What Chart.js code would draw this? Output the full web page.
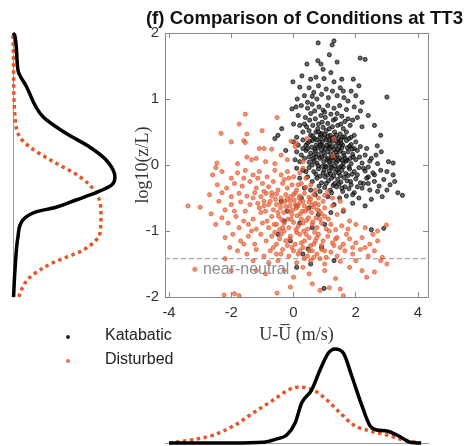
<!DOCTYPE html>
<html>
<head>
<meta charset="utf-8">
<script src="https://cdn.jsdelivr.net/npm/chart.js@4.4.1/dist/chart.umd.min.js"></script>
<style>
    body { margin: 0; width: 466px; height: 446px; position: relative; background: #fff; overflow: hidden; }
    canvas { position: absolute; }
    #chart-main { left: 125px; top: 0; }
    #chart-left { left: 0; top: 0; }
    #chart-bottom { left: 120px; top: 340px; }
    #legend { position: absolute; left: 60px; top: 323px; font: 16px "Liberation Sans", Arial, sans-serif; color: #222; }
    #legend .item { position: relative; height: 24px; line-height: 24px; padding-left: 45px; }
    #legend .item i { position: absolute; left: 6px; top: 12px; width: 4px; height: 4px; border-radius: 50%; }
</style>
</head>
<body>
<canvas id="chart-left" width="140" height="330"></canvas>
<canvas id="chart-bottom" width="346" height="106"></canvas>
<canvas id="chart-main" width="338" height="350"></canvas>
<div id="legend"></div>
<script>
// axis limits and ticks
var xMin = -4.13, xMax = 4.32;
var yMin = -2, yMax = 2;
var xTicks = [-4, -2, 0, 2, 4];
var yTicks = [-2, -1, 0, 1, 2];

var seriesNames = ['Katabatic', 'Disturbed'];
var neutralLevel = -1.42;
var neutralLabel = 'near-neutral';

// scatter: [U - Ubar, log10(z/L)]
var katabaticPoints = [
    [0.79,1.85],[1.24,1.82],[1.3,1.88],[1.15,1.67],[1.4,1.56],[0.78,1.58],[0.88,1.53],[0.43,1.53],[2.14,1.62],[2.3,1.6],
    [-0.02,1.26],[0.27,1.35],[0.55,1.3],[0.72,1.33],[0.98,1.31],[1.3,1.26],[1.55,1.3],[1.92,1.3],[0.2,1.18],[0.5,1.17],
    [0.8,1.2],[1.05,1.15],[1.25,1.12],[1.5,1.17],[1.85,1.12],[2.1,1.2],[0.35,1.05],[0.6,1.04],[0.9,1.07],[1.12,1.02],
    [1.4,1.05],[1.62,1.02],[2.0,1.05],[3.0,1.03],[0.12,1.0],[0.75,1.0],[1.75,0.97],[2.2,0.95],
    [0.45,0.95],[1.6,1.12],[1.2,1.4],[0.95,1.45],[0.65,1.1],
    [-0.05,0.85],[0.08,0.88],[0.25,0.9],[0.45,0.86],[0.6,0.92],[0.82,0.88],[0.95,0.83],[1.1,0.9],[1.3,0.86],[1.48,0.9],
    [1.7,0.84],[1.95,0.88],[2.15,0.82],[0.15,0.75],[0.38,0.72],[0.55,0.78],[0.7,0.7],[0.88,0.75],[1.02,0.72],[1.2,0.77],
    [1.35,0.7],[1.55,0.74],[1.75,0.7],[2.05,0.72],[2.4,0.75],[-0.5,0.45],[-0.38,0.55],[0.0,0.62],[0.2,0.6],[0.42,0.58],
    [0.62,0.6],[0.8,0.62],[0.95,0.57],[1.1,0.63],[1.25,0.58],[1.42,0.6],[1.6,0.55],[1.82,0.6],[2.2,0.58],[2.6,0.6],
    [0.3,0.5],[0.5,0.52],[0.72,0.5],[0.9,0.48],[1.05,0.52],[1.18,0.45],[1.32,0.5],[1.5,0.47],[1.7,0.5],[1.95,0.45],
    [2.8,0.45],[-0.6,0.4],[0.1,0.42],[0.85,0.42],[1.45,0.4],
    [0.35,0.62],[0.52,0.68],[0.68,0.82],[0.78,0.55],[0.92,0.65],[1.0,0.8],[1.15,0.55],[1.28,0.68],[1.4,0.78],[1.52,0.62],
    [1.65,0.66],[1.9,0.68],[0.55,0.45],[0.68,0.4],[0.8,0.5],[1.0,0.46],[1.15,0.38],[1.3,0.42],[1.58,0.42],[1.85,0.42],
    [0.0,0.35],[0.15,0.3],[0.3,0.38],[0.45,0.33],[0.6,0.37],[0.72,0.3],[0.85,0.35],[0.95,0.28],[1.05,0.38],[1.15,0.32],
    [1.25,0.36],[1.35,0.29],[1.45,0.34],[1.58,0.3],[1.7,0.37],[1.85,0.31],[2.0,0.35],[2.15,0.28],[2.69,0.29],[2.82,0.2],
    [-0.25,0.22],[0.1,0.2],[0.25,0.15],[0.4,0.22],[0.55,0.18],[0.68,0.24],[0.8,0.16],[0.9,0.22],[1.0,0.14],[1.1,0.2],
    [1.2,0.17],[1.3,0.23],[1.4,0.15],[1.5,0.21],[1.62,0.14],[1.75,0.2],[1.9,0.16],[2.05,0.22],[2.3,0.15],[2.5,0.1],
    [0.05,0.08],[0.2,0.05],[0.35,0.1],[0.5,0.04],[0.62,0.09],[0.75,0.03],[0.85,0.1],[0.97,0.05],[1.08,0.08],[1.18,0.02],
    [1.28,0.07],[1.38,0.04],[1.48,0.1],[1.6,0.03],[1.72,0.07],[1.85,0.02],[2.0,0.08],[2.2,0.03],[2.45,0.06],[2.7,0.02],
    [3.05,0.05],[3.2,0.03],[0.4,0.3],[0.65,0.15],[0.92,0.35],[1.12,0.1],[1.33,0.12],[1.55,0.26],[1.68,0.06],[0.78,0.26],
    [1.02,0.25],[1.22,0.28],[1.42,0.23],
    [0.45,0.25],[0.52,0.36],[0.88,0.3],[1.13,0.27],[1.38,0.36],[1.53,0.33],[1.8,0.28],[1.95,0.25],[0.6,0.0],[0.72,0.12],
    [0.93,-0.02],[1.2,-0.03],[1.45,-0.12],[1.57,0.07],[1.82,0.1],[2.12,0.12],[2.4,-0.03],
    [0.62,0.44],[0.74,0.38],[0.87,0.46],[0.99,0.41],[1.11,0.44],[1.24,0.4],[1.37,0.45],[1.52,0.38],[1.64,0.43],[1.78,0.4],
    [0.58,0.27],[0.7,0.21],[0.83,0.29],[0.96,0.19],[1.07,0.3],[1.17,0.25],[1.27,0.14],[1.36,0.2],[1.47,0.28],[1.6,0.18],
    [1.73,0.26],[1.88,0.24],[0.66,0.06],[0.79,-0.01],[0.91,0.12],[1.03,-0.02],[1.14,0.05],[1.23,0.11],[1.32,-0.01],[1.43,0.07],
    [1.53,-0.02],[1.66,0.1],[1.78,-0.03],[1.92,0.12],[0.72,-0.14],[0.86,-0.17],[0.98,-0.08],[1.09,-0.15],[1.19,-0.13],[1.29,-0.17],
    [1.4,-0.07],[1.5,-0.16],[1.6,-0.03],[1.75,-0.16],[1.88,-0.14],[2.05,-0.15],[2.25,-0.05],[2.4,-0.18],[1.05,-0.28],[1.27,-0.31],
    [1.45,-0.29],[1.65,-0.33],[1.83,-0.25],[2.25,-0.28],[2.6,-0.15],[0.5,0.12],[0.4,-0.1],[0.3,0.25],[2.35,0.25],[2.65,0.15],
    [0.1,-0.05],[0.3,-0.08],[0.5,-0.04],[0.65,-0.1],[0.8,-0.06],[0.95,-0.12],[1.05,-0.03],[1.15,-0.09],[1.25,-0.05],[1.35,-0.11],
    [1.45,-0.04],[1.55,-0.08],[1.68,-0.13],[1.8,-0.06],[1.95,-0.1],[2.1,-0.04],[2.3,-0.09],[2.55,-0.12],[2.8,-0.08],[3.0,-0.1],
    [3.2,-0.15],[0.2,-0.2],[0.45,-0.18],[0.6,-0.25],[0.75,-0.2],[0.9,-0.27],[1.02,-0.18],[1.12,-0.24],[1.22,-0.2],[1.32,-0.28],
    [1.42,-0.22],[1.52,-0.26],[1.62,-0.19],[1.72,-0.24],[1.85,-0.3],[2.0,-0.21],[2.15,-0.27],[2.35,-0.2],[2.6,-0.25],[2.9,-0.22],
    [3.1,-0.3],[0.35,-0.35],[0.55,-0.38],[0.85,-0.4],[1.0,-0.34],[1.18,-0.38],[1.38,-0.33],[1.58,-0.4],[1.78,-0.36],[1.95,-0.42],
    [2.2,-0.35],[2.45,-0.38],[2.7,-0.4],[3.35,-0.42],[3.5,-0.46],[0.7,-0.45],[1.1,-0.48],[1.48,-0.5],[1.7,-0.47],[2.1,-0.5],
    [2.5,-0.52],[2.85,-0.48],[0.25,-0.5],[1.9,-0.58],[2.3,-0.62],[1.3,-0.6],
    [0.82,-0.32],[1.22,-0.42],[1.55,-0.35],[1.9,-0.45],[2.05,-0.33],[2.4,-0.28],[2.75,-0.32],[3.0,-0.38],[3.25,-0.25],
    [-0.4,-0.55],[-0.2,-0.7],[0.1,-0.62],[0.5,-0.65],[0.8,-0.75],[1.2,-0.72],[1.6,-0.7],[-0.3,-0.85],[0.2,-0.88],[0.6,-0.95],
    [1.0,-0.9],[2.5,-0.98],[2.9,-0.96],[0.47,-1.27],[-0.1,-1.15],[0.3,-1.35],[0.9,-1.25],[1.3,-1.45],[0.55,-1.5],[0.98,-1.87],
    [-0.5,-1.05],[0.1,-1.55]
];

var disturbedPoints = [
    [-1.55,0.77],[-0.53,0.72],[-1.75,0.62],[-2.33,0.48],[-1.5,0.47],[-1.01,0.52],[-2.0,0.35],[-1.6,0.37],[-1.55,0.34],[-1.1,0.25],
    [-0.95,0.25],[-0.7,0.24],[-1.2,0.1],[-1.35,0.08],[-0.08,0.36],[0.05,0.28],[-2.46,0.03],[-2.5,-0.04],[-0.4,0.15],[-0.2,0.08],
    [-1.8,0.02],[-0.9,0.05],[0.3,0.05],[-0.6,0.02],[-1.5,0.12],[0.1,0.33],[0.43,0.4],[1.3,0.4],[1.27,0.14],
    [-2.6,-0.15],[-2.3,-0.1],[-2.0,-0.2],[-1.8,-0.12],[-1.55,-0.08],[-1.3,-0.15],[-1.1,-0.1],[-0.85,-0.18],[-0.6,-0.08],[-0.4,-0.15],
    [-0.2,-0.1],[0.0,-0.18],[0.2,-0.12],[0.4,-0.2],[-2.45,-0.3],[-2.15,-0.35],[-1.9,-0.28],[-1.65,-0.32],
    [-1.4,-0.25],[-1.2,-0.35],[-1.0,-0.28],[-0.8,-0.33],[-0.65,-0.25],[-0.5,-0.38],[-0.35,-0.28],[-0.2,-0.35],[-0.05,-0.3],[0.1,-0.38],
    [0.25,-0.28],[0.4,-0.34],[0.55,-0.3],[0.7,-0.38],[1.1,-0.4],[-2.7,-0.45],[-2.3,-0.42],[-2.0,-0.48],
    [-1.75,-0.43],[-1.5,-0.47],[-1.25,-0.42],[-1.05,-0.48],[-0.88,-0.43],[-0.7,-0.47],[-0.55,-0.44],[-0.4,-0.5],[-0.25,-0.45],[-0.1,-0.48],
    [0.05,-0.42],[0.2,-0.47],[0.35,-0.43],[0.5,-0.49],[0.65,-0.45],[0.8,-0.5],[1.0,-0.46],[1.25,-0.5],[-1.6,-0.2],
    [-0.3,-0.22],[0.3,-0.05],[-0.95,-0.4],[0.0,-0.45],
    [-3.39,-0.62],[-3.0,-0.64],[-2.65,-0.74],[-2.4,-0.55],[-2.2,-0.68],[-2.0,-0.6],[-1.85,-0.78],[-1.7,-0.56],[-1.55,-0.7],[-1.4,-0.6],
    [-1.3,-0.82],[-1.15,-0.58],[-1.05,-0.72],[-0.95,-0.62],[-0.85,-0.85],[-0.75,-0.55],[-0.65,-0.68],[-0.55,-0.6],[-0.48,-0.78],[-0.4,-0.58],
    [-0.32,-0.72],[-0.25,-0.63],[-0.18,-0.82],[-0.1,-0.55],[-0.02,-0.68],[0.05,-0.6],[0.12,-0.77],[0.2,-0.57],[0.28,-0.7],[0.35,-0.62],
    [0.42,-0.84],[0.5,-0.56],[0.58,-0.72],[0.65,-0.64],[0.72,-0.8],[0.8,-0.6],[0.9,-0.74],[1.0,-0.65],[1.12,-0.82],[1.25,-0.62],
    [1.4,-0.75],[1.6,-0.68],[1.8,-0.85],[-2.5,-0.9],[-2.1,-0.88],[-1.75,-0.95],[-1.45,-0.9],[-1.2,-0.97],[-1.0,-0.88],[-0.8,-0.95],
    [-0.62,-0.9],[-0.45,-0.98],[-0.3,-0.88],[-0.15,-0.95],[0.0,-0.87],[0.15,-0.93],[0.3,-0.88],[0.45,-0.97],[0.6,-0.9],[0.75,-0.95],
    [0.9,-0.88],[1.05,-0.97],[1.2,-0.9],[1.35,-0.98],[1.55,-0.92],[1.75,-0.97],[2.0,-0.9],[2.3,-0.95],[2.7,-1.0],[2.98,-0.91],
    [-0.7,-0.78],[-0.2,-0.52],[0.25,-0.82],[0.55,-0.52],[0.95,-0.55],[-0.05,-0.75],[0.38,-0.7],[0.7,-0.58],[-0.38,-0.83],[0.1,-0.65],
    [-0.9,-0.7],[-1.6,-0.85],[0.85,-0.82],[1.5,-0.55],[-0.55,-0.9],[0.18,-0.5],[0.62,-0.86],[-0.12,-0.62],
    [-0.58,-0.52],[-0.42,-0.65],[-0.28,-0.55],[-0.15,-0.7],[0.02,-0.53],[0.14,-0.62],[0.3,-0.55],[0.45,-0.67],[0.6,-0.6],[0.77,-0.68],
    [-0.5,-0.72],[-0.35,-0.95],[-0.08,-0.82],[0.08,-0.98],[0.22,-0.74],[0.33,-1.0],[0.48,-0.8],[0.68,-1.02],[0.83,-0.7],[1.0,-0.78],
    [-0.6,-1.02],[-0.45,-1.12],[-0.3,-1.0],[-0.12,-1.12],[0.1,-1.02],[0.25,-1.18],[0.4,-1.05],[0.55,-1.22],[0.75,-1.1],[0.9,-1.22],
    [1.15,-1.0],[1.35,-1.12],[-0.65,-1.25],[-0.4,-1.35],[-0.05,-1.25],[0.2,-1.3],[0.5,-1.3],[0.65,-1.4],[1.0,-1.3],[1.5,-1.25],
    [1.7,-1.05],[1.9,-1.25],[2.3,-1.25],[2.55,-1.05],[-1.3,-0.5],[-1.1,-0.65],[-0.8,-0.6],[-1.9,-0.7],[-2.3,-0.8],[-1.35,-1.0],
    [-1.6,-1.2],[-2.05,-1.25],[-0.95,-0.55],[-0.7,-0.42],[0.15,-0.3],[-0.15,-0.2],[-1.15,-0.2],
    [-2.2,-1.1],[-1.95,-1.05],[-1.7,-1.15],[-1.45,-1.08],[-1.25,-1.2],[-1.05,-1.05],[-0.88,-1.15],[-0.7,-1.08],[-0.55,-1.2],[-0.4,-1.05],
    [-0.25,-1.15],[-0.1,-1.08],[0.05,-1.2],[0.2,-1.05],[0.35,-1.15],[0.5,-1.1],[0.65,-1.2],[0.8,-1.05],[0.95,-1.15],[1.1,-1.08],
    [1.25,-1.18],[1.4,-1.1],[1.6,-1.2],[1.8,-1.12],[2.0,-1.18],[2.2,-1.1],[2.45,-1.2],[2.7,-1.15],[-1.8,-1.3],[-1.5,-1.35],
    [-1.2,-1.28],[-0.95,-1.38],[-0.75,-1.3],[-0.55,-1.35],[-0.35,-1.28],[-0.15,-1.38],[0.0,-1.3],[0.15,-1.35],[0.3,-1.25],[0.45,-1.38],
    [0.6,-1.3],[0.75,-1.35],[0.9,-1.28],[1.05,-1.4],[1.2,-1.32],[1.4,-1.38],[1.65,-1.3],[1.9,-1.35],[2.15,-1.28],[2.4,-1.38],
    [2.6,-1.3],[2.85,-1.4],[-2.2,-1.42],[-1.3,-1.45],[-0.5,-1.45],[0.1,-1.48],[0.55,-1.45],[1.0,-1.5],[1.5,-1.46],[2.0,-1.45],
    [2.8,-1.45],[-0.8,-1.48],[0.35,-1.42],[1.3,-1.22],[0.7,-1.15],[-0.2,-1.22],[0.85,-1.42],
    [-3.17,-1.58],[-2.23,-1.97],[-1.9,-1.95],[-1.75,-1.98],[-0.53,-1.94],[0.6,-1.8],[0.85,-1.9],[1.15,-1.86],[1.5,-1.88],[1.6,-1.98],
    [-1.2,-1.6],[-0.9,-1.65],[-0.3,-1.6],[0.0,-1.7],[0.3,-1.55],[0.5,-1.65],[1.0,-1.6],[1.8,-1.55],[2.2,-1.6],[2.6,-1.62],
    [3.0,-1.5],[-2.0,-1.6],[-0.1,-1.85],[2.35,-1.7],[1.35,-1.72]
];

// marginal density of log10(z/L) (left panel)
var leftKatabaticY = [-2.0, -1.59, -1.09, -0.83, -0.71, -0.64, -0.53, -0.42, -0.3, -0.18, 0.08, 0.27, 0.48, 0.73, 1.19, 1.44, 1.97, 2.0];
var leftKatabaticD = [0.005, 0.018, 0.045, 0.091, 0.209, 0.391, 0.573, 0.755, 0.9, 0.927, 0.845, 0.7, 0.482, 0.273, 0.122, 0.045, 0.015, 0];
var leftDisturbedY = [-2.0, -1.94, -1.7, -1.48, -1.29, -1.03, -0.73, -0.42, -0.18, 0.08, 0.27, 0.42, 0.73, 1.5, 2.0];
var leftDisturbedD = [0.055, 0.064, 0.155, 0.364, 0.636, 0.791, 0.8, 0.755, 0.609, 0.336, 0.155, 0.064, 0.018, 0.005, 0];

// marginal density of U - Ubar (bottom panel)
var bottomKatabaticX = [-4, -2, -0.97, -0.54, -0.22, 0.05, 0.26, 0.58, 0.85, 1.12, 1.33, 1.6, 1.87, 2.2, 2.46, 2.68, 3.0, 3.38, 3.75, 4.1];
var bottomKatabaticD = [0, 0, 0.005, 0.027, 0.053, 0.133, 0.267, 0.353, 0.487, 0.6, 0.627, 0.6, 0.447, 0.247, 0.113, 0.087, 0.08, 0.047, 0.005, 0];
var bottomDisturbedX = [-4, -3.23, -2.58, -1.94, -1.3, -0.65, -0.11, 0.21, 0.64, 1.07, 1.5, 1.93, 2.46, 3.0, 3.54, 4.07];
var bottomDisturbedD = [0, 0.022, 0.053, 0.113, 0.2, 0.287, 0.36, 0.373, 0.353, 0.287, 0.2, 0.12, 0.08, 0.053, 0.02, 0];

var black = '#000000';
var orange = '#e2582b';
var sans = '"Liberation Sans", Arial, sans-serif';
var serif = '"Liberation Serif", "Times New Roman", serif';

Chart.defaults.font.family = sans;
Chart.defaults.animation = false;

function toXY(pts) {
    return pts.map(function (p) { return {x: p[0], y: p[1]}; });
}

function pair(xs, ys) {
    return xs.map(function (v, i) { return {x: v, y: ys[i]}; });
}

function fixTicks(list) {
    return function (scale) {
        scale.ticks = list.map(function (v) { return {value: v}; });
    };
}

function fixSize(w, h) {
    return function (scale) {
        if (w !== null) scale.width = w;
        if (h !== null) scale.height = h;
    };
}

// text label next to the near-neutral line
var neutralText = {
    id: 'neutralText',
    afterDatasetsDraw: function (chart) {
        var ctx = chart.ctx;
        ctx.save();
        ctx.font = '16px ' + sans;
        ctx.fillStyle = '#8c8c8c';
        ctx.textBaseline = 'middle';
        ctx.fillText(neutralLabel, chart.scales.x.getPixelForValue(-2.91), chart.scales.y.getPixelForValue(-1.59));
        ctx.restore();
    }
};

var axisGrey = '#8a8a8a';
var tickStyle = {color: '#333', font: {size: 15}};

var mainChart = new Chart(document.getElementById('chart-main'), {
    type: 'scatter',
    data: {
        datasets: [{
            label: seriesNames[0],
            data: toXY(katabaticPoints),
            pointRadius: 2.1,
            backgroundColor: 'rgba(40,40,40,0.7)',
            borderColor: 'rgba(0,0,0,0.85)',
            borderWidth: 0.8,
            order: 3
        }, {
            label: seriesNames[1],
            data: toXY(disturbedPoints),
            pointRadius: 2.1,
            backgroundColor: 'rgba(232,100,60,0.7)',
            borderColor: 'rgba(226,88,43,0.85)',
            borderWidth: 0.8,
            order: 2
        }, {
            type: 'line',
            data: [{x: xMin, y: neutralLevel}, {x: xMax, y: neutralLevel}],
            borderColor: '#a6a6a6',
            borderWidth: 1.3,
            borderDash: [5, 3],
            pointRadius: 0,
            order: 4
        }]
    },
    options: {
        responsive: false,
        layout: {padding: 0},
        plugins: {
            legend: {display: false},
            tooltip: {enabled: false},
            title: {
                display: true,
                text: '(f) Comparison of Conditions at TT3',
                align: 'end',
                color: '#111',
                font: {size: 18.6, weight: 'bold'},
                padding: {top: 8, bottom: 0}
            }
        },
        scales: {
            x: {
                type: 'linear', position: 'bottom', min: xMin, max: xMax,
                afterBuildTicks: fixTicks(xTicks),
                afterFit: fixSize(null, 53),
                grid: {drawOnChartArea: false, tickLength: -5, color: axisGrey},
                border: {color: axisGrey},
                ticks: Object.assign({padding: 12}, tickStyle),
                title: {display: true, text: 'U-U\u0305 (m/s)', color: '#333', font: {family: serif, size: 18}, padding: {top: 0, bottom: 4}}
            },
            x2: {
                type: 'linear', position: 'top', min: xMin, max: xMax,
                afterBuildTicks: fixTicks(xTicks),
                afterFit: fixSize(null, 2.7),
                grid: {drawOnChartArea: false, tickLength: -5, color: axisGrey},
                border: {color: axisGrey},
                ticks: {display: false}
            },
            y: {
                type: 'linear', position: 'left', min: yMin, max: yMax,
                afterBuildTicks: fixTicks(yTicks),
                afterFit: fixSize(40, null),
                grid: {drawOnChartArea: false, tickLength: -5, color: axisGrey},
                border: {color: axisGrey},
                ticks: Object.assign({padding: 11}, tickStyle),
                title: {display: true, text: 'log10(z/L)', color: '#333', font: {family: serif, size: 18}, padding: {top: 7, bottom: 0}}
            },
            y2: {
                type: 'linear', position: 'right', min: yMin, max: yMax,
                afterBuildTicks: fixTicks(yTicks),
                afterFit: fixSize(35, null),
                grid: {drawOnChartArea: false, tickLength: -5, color: axisGrey},
                border: {color: axisGrey},
                ticks: {display: false}
            }
        }
    },
    plugins: [neutralText]
});

// left marginal: density of log10(z/L)
new Chart(document.getElementById('chart-left'), {
    type: 'line',
    data: {
        datasets: [{
            data: pair(leftKatabaticD, leftKatabaticY),
            borderColor: black,
            borderWidth: 3.5,
            pointRadius: 0,
            cubicInterpolationMode: 'monotone',
            clip: false
        }, {
            data: pair(leftDisturbedD, leftDisturbedY),
            borderColor: orange,
            borderWidth: 3.5,
            borderDash: [3.5, 3.5],
            pointRadius: 0,
            cubicInterpolationMode: 'monotone',
            clip: false
        }]
    },
    options: {
        responsive: false,
        indexAxis: 'y',
        layout: {padding: {left: 13, top: 33, bottom: 33, right: 0}},
        plugins: {legend: {display: false}, tooltip: {enabled: false}},
        scales: {
            x: {type: 'linear', display: false, min: 0, max: 1.155},
            y: {
                type: 'linear', position: 'left', min: yMin, max: yMax,
                afterFit: fixSize(0, null),
                ticks: {display: false},
                grid: {display: false},
                border: {color: '#999', width: 1}
            }
        }
    }
});

// bottom marginal: density of U - Ubar
new Chart(document.getElementById('chart-bottom'), {
    type: 'line',
    data: {
        datasets: [{
            data: pair(bottomKatabaticX, bottomKatabaticD),
            borderColor: black,
            borderWidth: 3.5,
            pointRadius: 0,
            cubicInterpolationMode: 'monotone',
            clip: false
        }, {
            data: pair(bottomDisturbedX, bottomDisturbedD),
            borderColor: orange,
            borderWidth: 3.5,
            borderDash: [3.5, 3.5],
            pointRadius: 0,
            cubicInterpolationMode: 'monotone',
            clip: false
        }]
    },
    options: {
        responsive: false,
        layout: {padding: {left: 45, right: 38, top: 0, bottom: 3}},
        plugins: {legend: {display: false}, tooltip: {enabled: false}},
        scales: {
            x: {
                type: 'linear', position: 'bottom', min: xMin, max: xMax,
                afterFit: fixSize(null, 0),
                ticks: {display: false},
                grid: {display: false},
                border: {color: '#999', width: 1}
            },
            y: {type: 'linear', display: false, min: 0, max: 0.687}
        }
    }
});

// legend built from the scatter datasets
var legendEl = document.getElementById('legend');
mainChart.data.datasets.forEach(function (ds) {
    if (!ds.label) return;
    var item = document.createElement('div');
    item.className = 'item';
    var dot = document.createElement('i');
    dot.style.background = ds.borderColor;
    item.appendChild(dot);
    item.appendChild(document.createTextNode(ds.label));
    legendEl.appendChild(item);
});
</script>
</body>
</html>
